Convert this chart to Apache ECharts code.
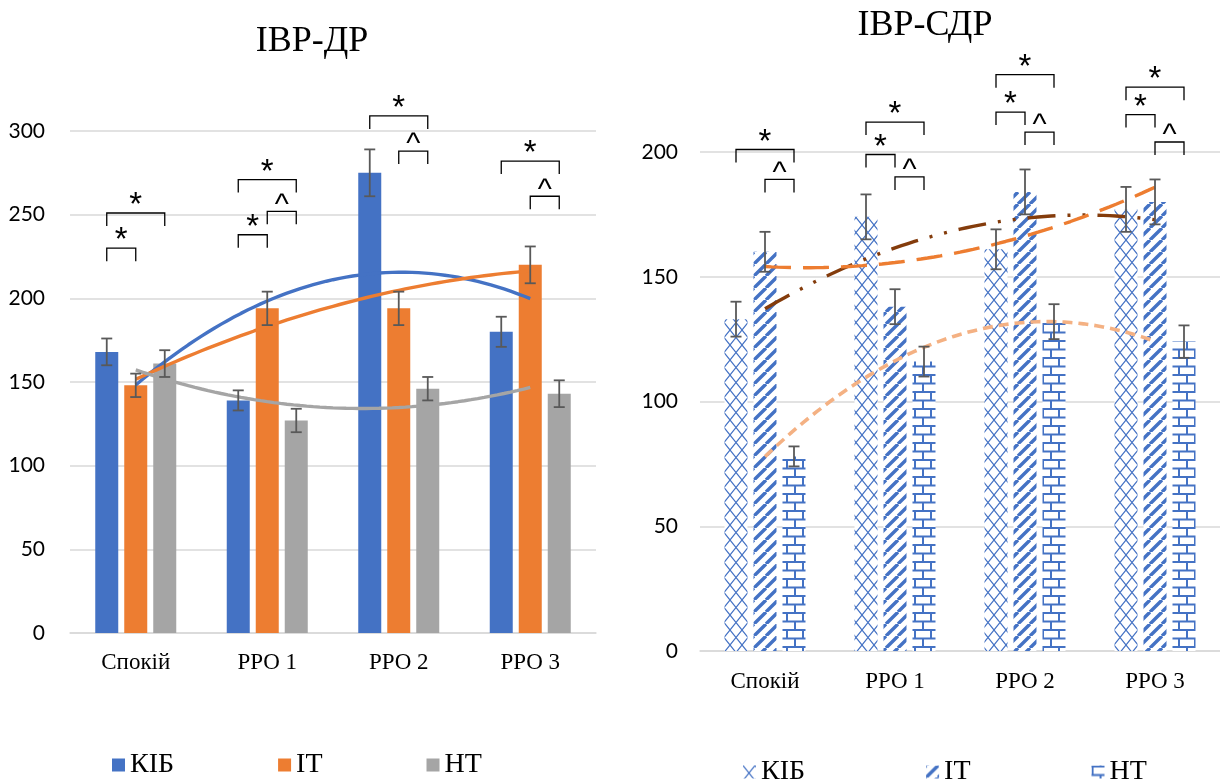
<!DOCTYPE html>
<html>
<head>
<meta charset="utf-8">
<script src="https://cdn.jsdelivr.net/npm/echarts@6/dist/echarts.min.js"></script>
<style>
  html, body { margin: 0; padding: 0; background: #fff; }
  #wrap { position: relative; width: 1220px; height: 783px; overflow: hidden; }
  #left { position: absolute; left: 0; top: 0; width: 610px; height: 783px; }
  #right { position: absolute; left: 610px; top: 0; width: 610px; height: 783px; }
</style>
</head>
<body>
<div id="wrap"><div id="left"></div><div id="right"></div></div>
<script>
// ---- data ----
const categories = ['Спокій', 'РРО 1', 'РРО 2', 'РРО 3'];
const seriesNames = ['КІБ', 'ІТ', 'НТ'];

// ІВР-ДР
const drKib = [168, 139, 275, 180];
const drKibErr = [8, 6, 14, 9];
const drIt = [148, 194, 194, 220];
const drItErr = [7, 10, 10, 11];
const drNt = [161, 127, 146, 143];
const drNtErr = [8, 7, 7, 8];

// ІВР-СДР
const sdrKib = [133, 174, 161, 177];
const sdrKibErr = [7, 9, 8, 9];
const sdrIt = [160, 138, 184, 180];
const sdrItErr = [8, 7, 9, 9];
const sdrNt = [78, 116, 132, 124];
const sdrNtErr = [4, 6, 7, 6.5];

// significance brackets: [category, from series, to series, level, mark]
const drBrackets = [
  [0, 0, 1, 230, '*'],
  [0, 0, 2, 251, '*'],
  [1, 0, 1, 238, '*'],
  [1, 1, 2, 252, '^'],
  [1, 0, 2, 271, '*'],
  [2, 0, 2, 309, '*'],
  [2, 1, 2, 288, '^'],
  [3, 0, 2, 282, '*'],
  [3, 1, 2, 261, '^']
];
const sdrBrackets = [
  [0, 0, 2, 201, '*'],
  [0, 1, 2, 189, '^'],
  [1, 0, 2, 212, '*'],
  [1, 0, 1, 199, '*'],
  [1, 1, 2, 190, '^'],
  [2, 0, 2, 231, '*'],
  [2, 0, 1, 216, '*'],
  [2, 1, 2, 208, '^'],
  [3, 0, 2, 226, '*'],
  [3, 0, 1, 215, '*'],
  [3, 1, 2, 204, '^']
];

// ---- styling ----
const BLUE = '#4472C4';
const BAR_W = 23;
const BAR_GAP = 6;
const BAR_STEP = BAR_W + BAR_GAP;
const SERIF = 'Liberation Serif';
const SANS = 'Lato';
const STAR_FONT = "33px 'Liberation Sans', Arial, sans-serif";
const CARET_FONT = "30px 'Liberation Sans', Arial, sans-serif";

// least-squares parabola through (i, ys[i]) — polynomial trendline of order 2
function quadFit(ys) {
  let s = [0, 0, 0, 0, 0], t = [0, 0, 0];
  ys.forEach((y, x) => {
    for (let k = 0; k < 5; k++) s[k] += Math.pow(x, k);
    for (let k = 0; k < 3; k++) t[k] += y * Math.pow(x, k);
  });
  const A = [[s[0], s[1], s[2]], [s[1], s[2], s[3]], [s[2], s[3], s[4]]];
  const det = m => m[0][0] * (m[1][1] * m[2][2] - m[1][2] * m[2][1])
                 - m[0][1] * (m[1][0] * m[2][2] - m[1][2] * m[2][0])
                 + m[0][2] * (m[1][0] * m[2][1] - m[1][1] * m[2][0]);
  const D = det(A);
  const coef = [0, 1, 2].map(c => det(A.map((row, r) => row.map((v, j) => (j === c ? t[r] : v)))) / D);
  return x => coef[0] + coef[1] * x + coef[2] * x * x;
}
function trendPoints(ys) {
  const f = quadFit(ys);
  const pts = [];
  for (let i = 0; i <= 60; i++) {
    const x = (ys.length - 1) * i / 60;
    pts.push([x, f(x)]);
  }
  return pts;
}

function errorSeries(vals, errs, slot) {
  return {
    type: 'custom', xAxisIndex: 0, yAxisIndex: 0, z: 6, silent: true, clip: false,
    data: vals.map((v, i) => [i, v, errs[i]]),
    renderItem: (params, api) => {
      const c = api.value(0), v = api.value(1), e = api.value(2);
      const top = api.coord([c, v + e]);
      const bot = api.coord([c, v - e]);
      const x = top[0] + (slot - 1) * BAR_STEP;
      const st = { stroke: '#595959', lineWidth: 1.8 };
      return {
        type: 'group', children: [
          { type: 'line', shape: { x1: x, y1: top[1], x2: x, y2: bot[1] }, style: st },
          { type: 'line', shape: { x1: x - 5.5, y1: top[1], x2: x + 5.5, y2: top[1] }, style: st },
          { type: 'line', shape: { x1: x - 5.5, y1: bot[1], x2: x + 5.5, y2: bot[1] }, style: st }
        ]
      };
    }
  };
}

function bracketSeries(list) {
  return {
    type: 'custom', xAxisIndex: 0, yAxisIndex: 0, z: 7, silent: true, clip: false,
    data: list.map(b => [b[0], b[3]]),
    renderItem: (params, api) => {
      const b = list[params.dataIndex];
      const c = api.coord([b[0], b[3]]);
      const x1 = c[0] + (b[1] - 1) * BAR_STEP;
      const x2 = c[0] + (b[2] - 1) * BAR_STEP;
      const y = c[1];
      const leg = 13;
      const star = b[4] === '*';
      return {
        type: 'group', children: [
          { type: 'polyline', shape: { points: [[x1, y + leg], [x1, y], [x2, y], [x2, y + leg]] },
            style: { stroke: '#000', lineWidth: 1.3, fill: null } },
          { type: 'text', x: (x1 + x2) / 2, y: y - (star ? 7 : 6),
            style: { text: b[4], fill: '#000', font: star ? STAR_FONT : CARET_FONT,
                     textAlign: 'center', textVerticalAlign: 'middle' } }
        ]
      };
    }
  };
}

function trendSeries(vals, lineStyle) {
  return {
    type: 'line', xAxisIndex: 1, yAxisIndex: 0, z: 5, silent: true,
    showSymbol: false, symbol: 'none', smooth: false,
    data: trendPoints(vals), lineStyle: lineStyle
  };
}

function buildOption(cfg) {
  const series = [];
  cfg.values.forEach((vals, k) => {
    series.push({
      name: seriesNames[k], type: 'bar', xAxisIndex: 0, yAxisIndex: 0, z: 2,
      barWidth: BAR_W, barGap: (BAR_GAP / BAR_W * 100) + '%',
      data: vals, itemStyle: { color: cfg.fills[k] }
    });
  });
  cfg.values.forEach((vals, k) => series.push(trendSeries(vals, cfg.trendStyles[k])));
  cfg.values.forEach((vals, k) => series.push(errorSeries(vals, cfg.errors[k], k)));
  series.push(bracketSeries(cfg.brackets));

  return {
    animation: false,
    textStyle: { fontFamily: SERIF },
    title: {
      text: cfg.title, left: cfg.titleCenter, top: cfg.titleTop, textAlign: 'center', padding: 0,
      textStyle: { fontFamily: SERIF, fontWeight: 'normal', fontSize: 36, color: '#000' }
    },
    legend: {
      data: seriesNames, left: cfg.legendLeft, top: cfg.legendTop, padding: 0,
      itemWidth: 13, itemHeight: 13, itemGap: cfg.legendGap, icon: 'rect',
      textStyle: { fontFamily: SERIF, fontWeight: 'normal', fontSize: 28, color: '#000' }
    },
    grid: cfg.grid,
    xAxis: [
      {
        type: 'category', data: categories, boundaryGap: true,
        axisTick: { show: false },
        axisLine: { lineStyle: { color: '#D9D9D9', width: 1.5 } },
        axisLabel: { fontFamily: SERIF, fontSize: 23, color: '#000', margin: cfg.catMargin }
      },
      { type: 'value', min: -0.5, max: categories.length - 0.5, show: false }
    ],
    yAxis: {
      type: 'value', min: 0, max: cfg.yMax, interval: 50,
      axisLine: { show: false }, axisTick: { show: false },
      splitLine: { lineStyle: { color: '#D9D9D9', width: 1.5 } },
      axisLabel: { fontFamily: SANS, fontSize: 21, color: '#000', margin: cfg.yMargin }
    },
    series: series
  };
}

// ---- fill patterns for ІВР-СДР ----
function tile(w, h, draw) {
  const c = document.createElement('canvas');
  c.width = w; c.height = h;
  const g = c.getContext('2d');
  g.fillStyle = '#fff';
  g.fillRect(0, 0, w, h);
  g.strokeStyle = BLUE;
  draw(g, w, h);
  return { image: c, repeat: 'repeat' };
}
const diamondFill = tile(12, 15, (g, w, h) => {
  g.lineWidth = 1.2;
  g.beginPath();
  g.moveTo(0, 0); g.lineTo(w, h);
  g.moveTo(w, 0); g.lineTo(0, h);
  g.stroke();
});
const stripeFill = tile(12, 12, (g, w, h) => {
  g.lineWidth = 3.4;
  g.beginPath();
  [-w, 0, w].forEach(x0 => { g.moveTo(x0, h); g.lineTo(x0 + w, 0); });
  g.stroke();
});
const brickFill = tile(16, 17, (g, w, h) => {
  g.lineWidth = 2;
  g.beginPath();
  g.moveTo(0, 1); g.lineTo(w, 1);
  g.moveTo(0, 9.5); g.lineTo(w, 9.5);
  g.moveTo(1, 1); g.lineTo(1, 9.5);
  g.moveTo(9, 9.5); g.lineTo(9, h + 1);
  g.stroke();
});

const leftChart = echarts.init(document.getElementById('left'), null, { renderer: 'canvas' });
leftChart.setOption(buildOption({
  title: 'ІВР-ДР', titleCenter: 312, titleTop: 24,
  values: [drKib, drIt, drNt],
  errors: [drKibErr, drItErr, drNtErr],
  brackets: drBrackets,
  fills: [BLUE, '#ED7D31', '#A5A5A5'],
  trendStyles: [
    { color: BLUE, width: 3.4 },
    { color: '#ED7D31', width: 3.4 },
    { color: '#A5A5A5', width: 3.4 }
  ],
  grid: { left: 70, right: 14, top: 131, bottom: 150 },
  yMax: 300, yMargin: 25, catMargin: 18,
  legendLeft: 112, legendTop: 751, legendGap: 104
}));

const rightChart = echarts.init(document.getElementById('right'), null, { renderer: 'canvas' });
rightChart.setOption(buildOption({
  title: 'ІВР-СДР', titleCenter: 315, titleTop: 8,
  values: [sdrKib, sdrIt, sdrNt],
  errors: [sdrKibErr, sdrItErr, sdrNtErr],
  brackets: sdrBrackets,
  fills: [diamondFill, stripeFill, brickFill],
  trendStyles: [
    { color: '#843C0C', width: 3.4, type: [28, 12, 3, 12, 3, 12] },
    { color: '#ED7D31', width: 3.4, type: [26, 12] },
    { color: '#F4B183', width: 3.6, type: [10, 6] }
  ],
  grid: { left: 90, width: 529, top: 152, bottom: 132 },
  yMax: 200, yMargin: 22, catMargin: 19,
  legendLeft: 133, legendTop: 758, legendGap: 121
}));
</script>
</body>
</html>
